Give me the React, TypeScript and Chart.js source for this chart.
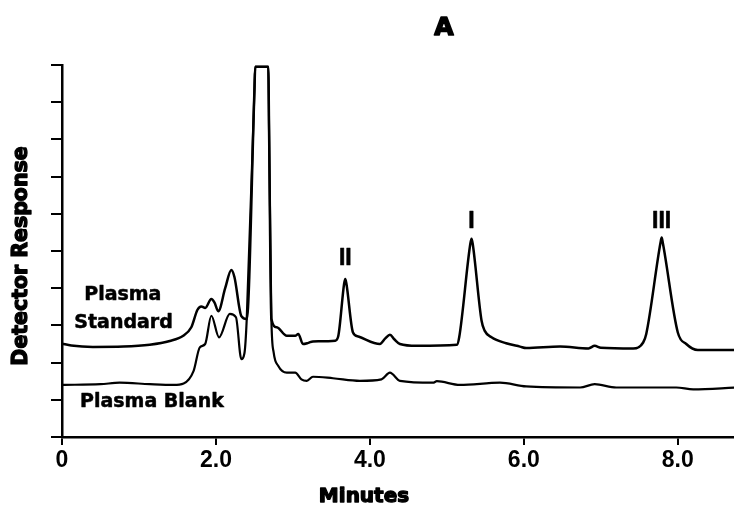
import React, { useEffect, useRef } from "react";
import { Chart, registerables } from "chart.js";

Chart.register(...registerables);

// Plasma Standard trace (minutes, detector response)
const standardTimes = [
  0, 0.12, 0.4, 0.8, 1.14, 1.4, 1.575, 1.68, 1.76, 1.81, 1.86, 1.94, 1.98, 2.03, 2.12, 2.2, 2.24, 2.33, 2.4,
  2.5, 2.51, 2.68, 2.69, 2.72, 2.79, 2.92, 3.03, 3.07, 3.13, 3.2, 3.26, 3.55, 3.59, 3.665, 3.68, 3.695, 3.78,
  3.85, 4.13, 4.2, 4.26, 4.32, 4.39, 4.61, 5.13, 5.16, 5.305, 5.32, 5.335, 5.45, 5.49, 5.58, 5.77, 5.95, 6.03,
  6.47, 6.84, 6.92, 7.0, 7.42, 7.55, 7.59, 7.775, 7.79, 7.805, 8.0, 8.11, 8.26, 8.75,
];
const standardValues = [
  2.51, 2.46, 2.42, 2.43, 2.48, 2.58, 2.72, 2.95, 3.42, 3.51, 3.47, 3.71, 3.62, 3.38, 4.0, 4.49, 4.3, 3.25, 3.17,
  9.33, 9.95, 9.95, 8.25, 3.17, 2.95, 2.72, 2.72, 2.77, 2.5, 2.53, 2.57, 2.59, 2.72, 4.12, 4.25, 4.12, 2.81,
  2.7, 2.5, 2.65, 2.75, 2.62, 2.5, 2.45, 2.48, 2.68, 5.2, 5.33, 5.2, 3.13, 2.86, 2.68, 2.52, 2.43, 2.39,
  2.43, 2.38, 2.45, 2.4, 2.38, 2.54, 2.77, 5.22, 5.36, 5.22, 2.81, 2.5, 2.34, 2.34,
];

// Plasma Blank trace
const blankTimes = [
  0, 0.5, 0.75, 1.14, 1.45, 1.58, 1.71, 1.79, 1.86, 1.94, 2.04, 2.18, 2.26, 2.33, 2.37, 2.4, 2.5, 2.51, 2.68,
  2.69, 2.72, 2.75, 2.81, 2.92, 3.03, 3.11, 3.18, 3.26, 3.52, 3.87, 4.15, 4.26, 4.39, 4.82, 4.87, 5.17, 5.69,
  6.03, 6.73, 6.92, 7.2, 7.98, 8.2, 8.75,
];
const blankValues = [
  1.4, 1.42, 1.46, 1.42, 1.4, 1.44, 1.78, 2.41, 2.5, 3.26, 2.68, 3.31, 3.22, 2.09, 2.25, 3.17, 9.33, 9.95, 9.95,
  8.25, 3.17, 2.27, 1.91, 1.73, 1.73, 1.55, 1.51, 1.62, 1.58, 1.51, 1.55, 1.73, 1.51, 1.46, 1.5, 1.4, 1.46,
  1.36, 1.33, 1.42, 1.33, 1.33, 1.28, 1.33,
];

const xTickValues = [0, 2, 4, 6, 8];
const xTickLabels = ["0", "2.0", "4.0", "6.0", "8.0"];

const peakLabels = ["II", "I", "III"];
const peakLabelTimes = [3.68, 5.32, 7.79];
const peakLabelValues = [4.62, 5.62, 5.62];

const traceLabels = ["Plasma", "Standard", "Plasma Blank"];
const traceLabelTimes = [0.79, 0.8, 0.234];
const traceLabelValues = [3.68, 2.93, 0.81];
const traceLabelAlign = ["center", "center", "left"];

const chartTitle = "A";
const xTitle = "Minutes";
const yTitle = "Detector Response";

function heavyText(ctx: CanvasRenderingContext2D, text: string, x: number, y: number, stroke: number) {
  ctx.lineWidth = stroke;
  ctx.lineJoin = "round";
  ctx.strokeStyle = "#000";
  if (stroke > 0) ctx.strokeText(text, x, y);
  ctx.fillText(text, x, y);
}

const annotationPlugin = {
  id: "annotations",
  afterDraw(chart: any) {
    const ctx = chart.ctx as CanvasRenderingContext2D;
    const xs = chart.scales.x;
    const ys = chart.scales.y;
    ctx.save();
    ctx.fillStyle = "#000";
    ctx.textBaseline = "alphabetic";

    // title
    ctx.font = "bold 25px 'DejaVu Sans'";
    ctx.textAlign = "center";
    heavyText(ctx, chartTitle, 444, 35, 1.6);

    // peak labels
    ctx.font = "bold 23px 'Liberation Sans'";
    peakLabels.forEach((t, i) => {
      ctx.textAlign = "center";
      heavyText(ctx, t, xs.getPixelForValue(peakLabelTimes[i]), ys.getPixelForValue(peakLabelValues[i]), 0.6);
    });

    // trace labels
    ctx.font = "bold 19px 'DejaVu Sans'";
    traceLabels.forEach((t, i) => {
      ctx.textAlign = traceLabelAlign[i] as CanvasTextAlign;
      heavyText(ctx, t, xs.getPixelForValue(traceLabelTimes[i]), ys.getPixelForValue(traceLabelValues[i]), 0.5);
    });

    // x title
    ctx.font = "bold 20px 'DejaVu Sans'";
    ctx.textAlign = "center";
    heavyText(ctx, xTitle, 364, 502, 1.3);

    // y title
    ctx.translate(27, 256);
    ctx.rotate(-Math.PI / 2);
    ctx.font = "bold 20.5px 'DejaVu Sans'";
    ctx.textAlign = "center";
    heavyText(ctx, yTitle, 0, 0, 1.3);
    ctx.restore();
  },
};

export default function App() {
  const ref = useRef<HTMLCanvasElement>(null);
  useEffect(() => {
    if (!ref.current) return;
    const chart = new Chart(ref.current, {
      type: "line",
      data: {
        datasets: [
          {
            label: "Plasma Standard",
            data: standardTimes.map((t, i) => ({ x: t, y: standardValues[i] })),
            borderColor: "#000",
            borderWidth: 2.5,
            pointRadius: 0,
            cubicInterpolationMode: "monotone",
            fill: false,
          },
          {
            label: "Plasma Blank",
            data: blankTimes.map((t, i) => ({ x: t, y: blankValues[i] })),
            borderColor: "#000",
            borderWidth: 2.2,
            pointRadius: 0,
            cubicInterpolationMode: "monotone",
            fill: false,
          },
        ],
      },
      options: {
        responsive: false,
        animation: false,
        devicePixelRatio: 1,
        layout: { padding: { top: 65, left: 0, right: 0, bottom: 0 } },
        plugins: { legend: { display: false }, tooltip: { enabled: false } },
        scales: {
          x: {
            type: "linear",
            min: 0,
            max: 8.73,
            afterFit: (s: any) => {
              s.height = 69;
            },
            afterBuildTicks: (s: any) => {
              s.ticks = xTickValues.map((v) => ({ value: v }));
            },
            ticks: {
              includeBounds: false,
              color: "#000",
              font: { family: "'Liberation Sans'", size: 23, weight: "bold" },
              padding: 2,
              maxRotation: 0,
              callback: (v: any) => xTickLabels[xTickValues.indexOf(Number(v))] ?? "",
            },
            grid: { drawOnChartArea: false, drawTicks: true, tickLength: 8, color: "#000", lineWidth: 2 },
            border: { display: true, color: "#000", width: 2.5 },
          },
          y: {
            type: "linear",
            min: 0,
            max: 10,
            afterFit: (s: any) => {
              s.width = 62;
            },
            ticks: { display: false, stepSize: 1 },
            grid: { drawOnChartArea: false, drawTicks: true, tickLength: 11, color: "#000", lineWidth: 2 },
            border: { display: true, color: "#000", width: 2.5 },
          },
        },
      },
      plugins: [annotationPlugin],
    });
    return () => chart.destroy();
  }, []);
  return (
    <div style={{ position: "absolute", left: 0, top: 0, width: 734, height: 506, background: "#fff" }}>
      <canvas ref={ref} width={734} height={506} style={{ width: 734, height: 506 }} />
    </div>
  );
}
